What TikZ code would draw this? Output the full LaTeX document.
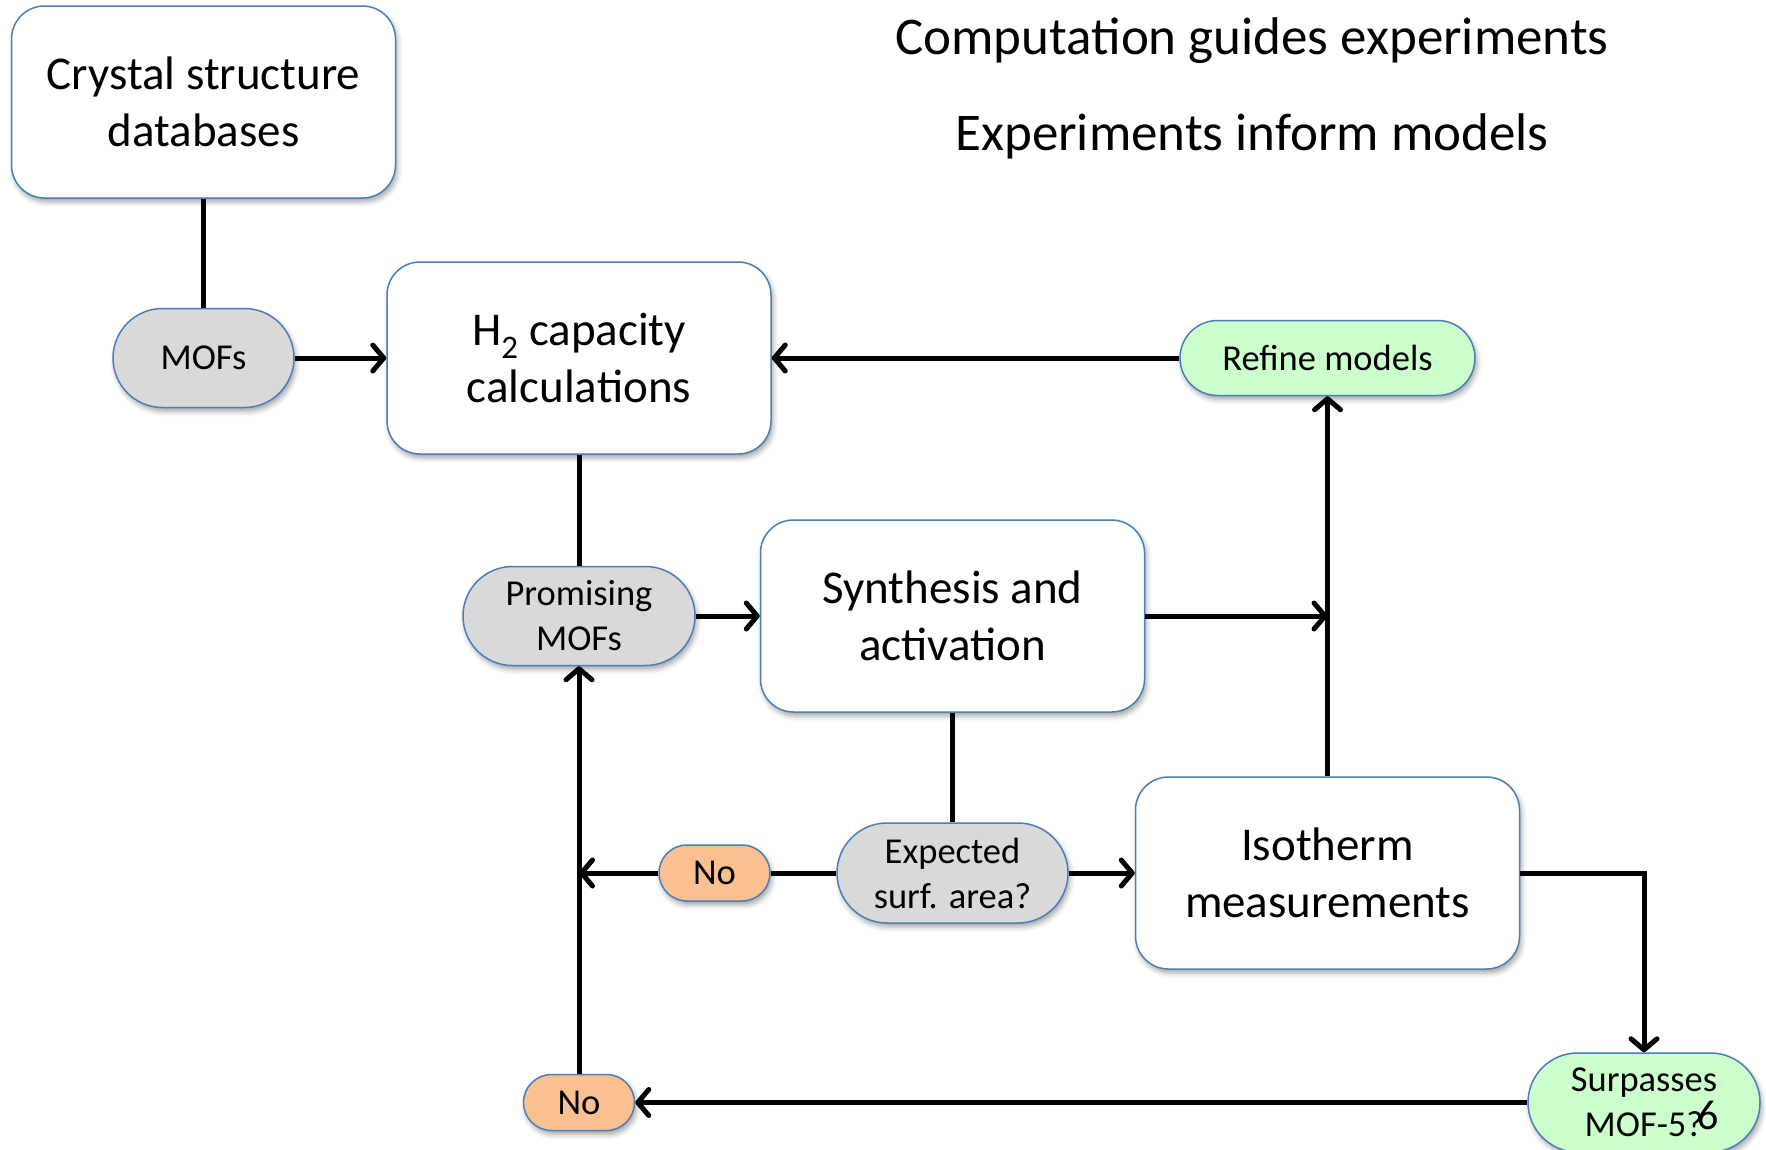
\documentclass[tikz,border=0pt]{standalone}
\usepackage{fontspec}
\setmainfont{Carlito}
\usetikzlibrary{arrows.meta,shapes.misc,shadows.blur}

\definecolor{edgeblue}{HTML}{4A7EBB}
\definecolor{mofgray}{HTML}{D9D9D9}
\definecolor{noorange}{HTML}{FAC090}
\definecolor{okgreen}{HTML}{CCFFCC}

\tikzset{
  softshadow/.style={blur shadow={shadow xshift=2pt, shadow yshift=-4pt,
      shadow blur radius=5pt, shadow opacity=35}},
  bigbox/.style={draw=edgeblue, line width=1.5pt, fill=white,
      rounded corners=33pt, minimum width=384pt, minimum height=192pt,
      inner sep=0pt, align=center, font=\fontsize{47}{57.5}\selectfont,
      softshadow},
  pill/.style={rounded rectangle, draw=edgeblue, line width=1.5pt,
      inner sep=0pt, align=center, font=\fontsize{36.5}{45}\selectfont,
      softshadow},
  graypill/.style={pill, fill=mofgray},
  nopill/.style={pill, fill=noorange, minimum width=111pt, minimum height=56pt},
  greenpill/.style={pill, fill=okgreen},
  link/.style={line width=5pt},
  flow/.style={line width=5pt, -{Straight Barb[length=11pt,width=26pt,round]}},
}

\begin{document}
\begin{tikzpicture}[x=1pt,y=-1pt]
\useasboundingbox (0,0) rectangle (1766,1149);

% headline
\node[anchor=base, font=\fontsize{53}{64}\selectfont] (head1) at (1252,54)
  {Computation guides experiments};
\node[anchor=base, font=\fontsize{53}{64}\selectfont] (head2) at (1252,150)
  {Experiments inform models};

% process boxes
\node[bigbox] (crystal) at (203.5,102) {Crystal structure\\databases};
\node[bigbox] (calc) at (579,358) {H\textsubscript{2} capacity\\calculations};
\node[bigbox] (synth) at (952.5,616) {Synthesis and\\activation};
\node[bigbox] (iso) at (1327.5,873) {Isotherm\\measurements};

% pills
\node[graypill, minimum width=181pt, minimum height=99pt] (mofs) at (203.5,358) {MOFs};
\node[greenpill, minimum width=295pt, minimum height=75pt] (refine) at (1327.5,358) {Refine models};
\node[graypill, minimum width=232pt, minimum height=99pt] (prom) at (579,616) {Promising\\MOFs};
\node[graypill, minimum width=231pt, minimum height=100pt] (expect) at (952.5,873) {Expected\\surf. area?};
\node[nopill] (noA) at (714.5,873) {No};
\node[greenpill, minimum width=232pt, minimum height=99pt] (surp) at (1644,1102.5) {Surpasses\\MOF-5?};
\node[nopill] (noB) at (579,1102.5) {No};

% page number
\node[anchor=base, font=\fontsize{42}{50}\selectfont, inner sep=0pt] (pgnum) at (1708,1129) {6};

% junction points
\coordinate (jsyn) at (1327.5,616);
\coordinate (jno) at (579,873);
\coordinate (jiso) at (1644,873);

% connectors
\draw[link] (crystal.south) -- (mofs.north);
\draw[flow] (mofs.east) -- (calc.west);
\draw[flow] (refine.west) -- (calc.east);
\draw[link] (calc.south) -- (prom.north);
\draw[flow] (prom.east) -- (synth.west);
\draw[flow] (synth.east) -- (jsyn);
\draw[flow] (iso.north) -- (refine.south);
\draw[link] (synth.south) -- (expect.north);
\draw[link] (expect.west) -- (noA.east);
\draw[flow] (noA.west) -- (jno);
\draw[flow] (expect.east) -- (iso.west);
\draw[flow] (iso.east) -- (jiso) -- (surp.north);
\draw[flow] (surp.west) -- (noB.east);
\draw[flow] (noB.north) -- (prom.south);
\end{tikzpicture}
\end{document}
